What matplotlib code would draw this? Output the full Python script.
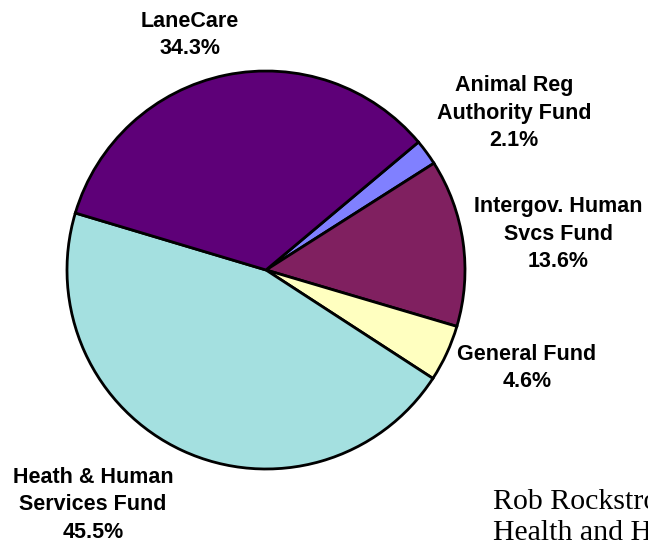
import matplotlib
matplotlib.use("Agg")
import matplotlib.pyplot as plt

categories = ["Animal Reg\nAuthority Fund", "Intergov. Human\nSvcs Fund", "General Fund",
              "Heath & Human\nServices Fund", "LaneCare"]
values = [2.1, 13.6, 4.6, 45.5, 34.3]
colors = ["#8080FF", "#802060", "#FFFFC0", "#A4E0E0", "#5E0078"]
# label centre positions in pixels (x, y from top)
label_pos = [(514, 113), (558, 234), (527, 368), (93, 505), (190, 35)]
note_lines = ["Rob Rockstroh, Director", "Health and Human Services"]

W, H = 648, 543
fig = plt.figure(figsize=(W / 100, H / 100), dpi=100)
ax = fig.add_axes([0, 0, 1, 1])
ax.set_xlim(0, W)
ax.set_ylim(0, H)
ax.set_aspect("equal")
ax.axis("off")

ax.pie(values, colors=colors, startangle=40, counterclock=False,
       center=(266, H - 270), radius=199,
       wedgeprops=dict(edgecolor="black", linewidth=2.0))
ax.set_xlim(0, W)
ax.set_ylim(0, H)

for cat, v, (px, py) in zip(categories, values, label_pos):
    fig.text(px / W, 1 - py / H, f"{cat}\n{v:.1f}%", ha="center", va="center",
             fontsize=15.5, fontweight="bold", family="Liberation Sans",
             linespacing=1.42, color="black")

fig.text(493 / W, 1 - 508 / H, note_lines[0], ha="left", va="baseline",
         fontsize=21.5, family="Liberation Serif", color="black")
fig.text(493 / W, 1 - 540 / H, note_lines[1], ha="left", va="baseline",
         fontsize=21.5, family="Liberation Serif", color="black")

fig.savefig("out.png", dpi=100)
